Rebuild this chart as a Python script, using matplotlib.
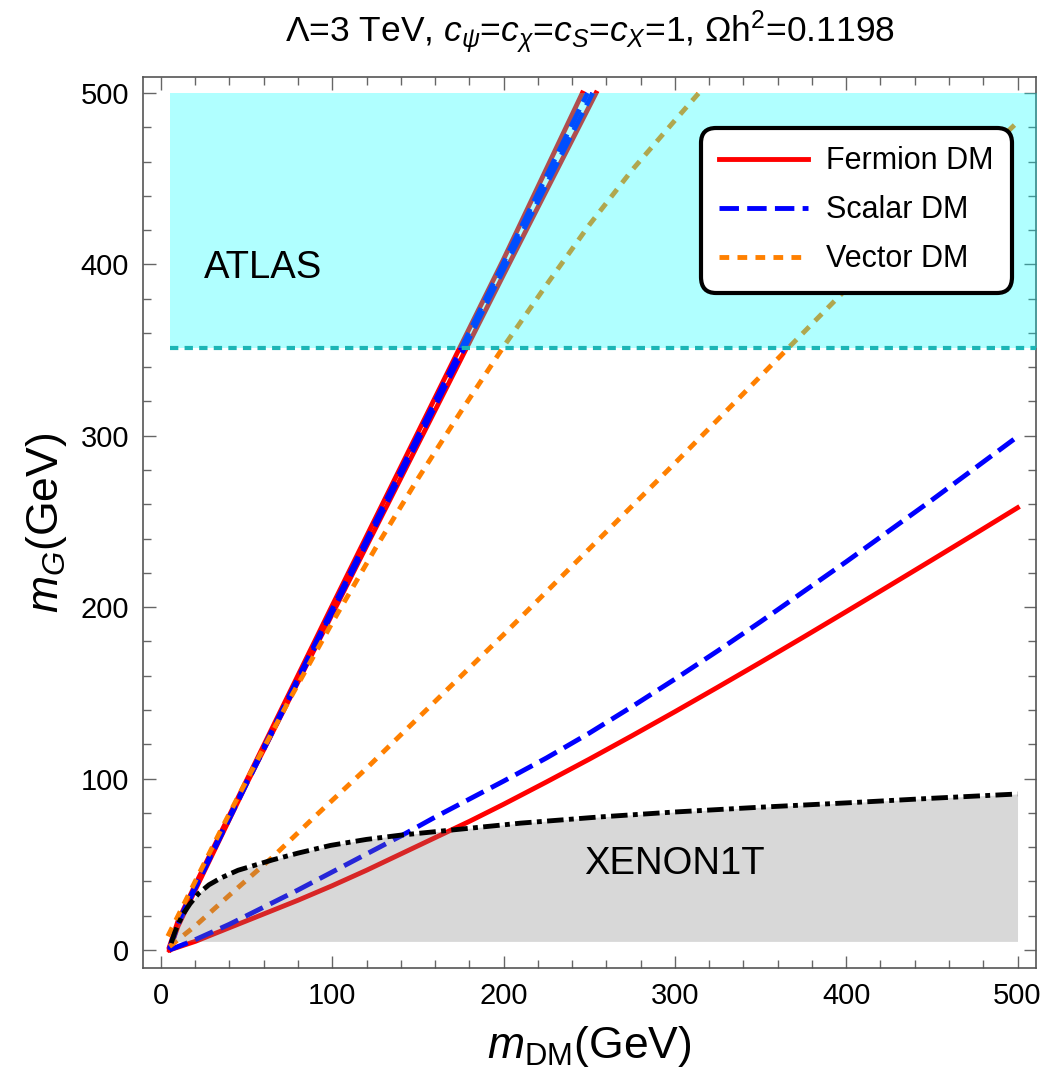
import matplotlib
matplotlib.use("Agg")
import matplotlib.pyplot as plt
from matplotlib.ticker import MultipleLocator

plt.rcParams['font.family'] = ['Liberation Sans', 'DejaVu Sans']
plt.rcParams['mathtext.fontset'] = 'custom'
plt.rcParams['mathtext.rm'] = 'Liberation Sans'
plt.rcParams['mathtext.it'] = 'Liberation Sans:italic'
plt.rcParams['mathtext.bf'] = 'Liberation Sans:bold'

# ---- relic-density contours (m_DM, m_G) in GeV ----
# Fermion DM: two resonance branches near m_G = 2 m_DM, plus the low branch
fermion_res_a_x = [5, 10, 20, 50, 100, 150, 200, 246]
fermion_res_a_y = [2, 17, 38, 99, 201, 302, 403, 500]
fermion_res_b_x = [5, 10, 20, 50, 100, 150, 200, 254]
fermion_res_b_y = [0, 14, 35, 97, 196, 295, 394, 500]
fermion_low_x = [5, 20, 40, 60, 80, 100, 120, 140, 160, 180, 200, 225, 250, 275,
                 300, 325, 350, 375, 400, 425, 450, 475, 500]
fermion_low_y = [0, 5, 13, 21, 29, 37.5, 46.5, 56, 65.5, 75, 85, 98, 111.3, 125,
                 139, 153.3, 167.8, 182.5, 197.4, 212.4, 227.5, 242.7, 258]

# Scalar DM
scalar_res_a_x = [5, 10, 20, 50, 100, 150, 200, 249]
scalar_res_a_y = [1, 16, 37, 98, 199, 300, 401, 500]
scalar_res_b_x = [5, 10, 20, 50, 100, 150, 200, 252]
scalar_res_b_y = [0, 15, 36, 97, 197, 297, 397, 500]
scalar_low_x = [5, 20, 40, 60, 80, 100, 120, 141, 160, 180, 200, 225, 250, 275,
                300, 325, 350, 375, 400, 425, 450, 475, 500]
scalar_low_y = [0, 6, 15, 25, 35, 45.5, 56, 67, 77.5, 88, 98.5, 112, 126.5, 142,
                158, 174.5, 191.5, 209, 226.5, 244.5, 262.5, 281, 299.5]

# Vector DM
vector_up_x = [4, 20, 35, 50, 75, 100, 125, 150, 175, 200, 225, 250, 275, 300, 314]
vector_up_y = [8, 40, 70, 99, 146, 191, 234, 275, 314, 352, 388, 423, 455, 484, 500]
vector_low_x = [5, 20, 40, 65, 90, 120, 160, 200, 250, 300, 365, 430, 500]
vector_low_y = [2, 14, 32, 54, 78, 106, 145, 184, 234, 284, 350, 416, 483]

# XENON1T direct-detection bound
xenon_x = [6, 8, 10, 13, 17, 22, 28, 35, 45, 55, 65, 80, 99, 120, 140, 170, 210,
           256, 300, 350, 400, 450, 500]
xenon_y = [4, 10, 15, 21, 27, 33, 38, 42, 46.5, 49.5, 52.5, 56.5, 61, 64.5, 67, 70,
           74, 77.6, 80.5, 83.3, 85.8, 88.5, 91]
xenon_floor = 5

# ATLAS exclusion
atlas_mg_min = 351
atlas_mg_max = 500
atlas_mdm_min = 5

xticks = [0, 100, 200, 300, 400, 500]
yticks = [0, 100, 200, 300, 400, 500]

fig = plt.figure(figsize=(10.52, 10.73), dpi=100)
ax = fig.add_axes([0.1359, 0.0979, 0.8489, 0.8303])
ax.set_xlim(-10.5, 510.8)
ax.set_ylim(-10.5, 509.3)

RED = '#ff0000'
BLUE = '#0000ff'
ORANGE = '#ff8000'
LW = 3.5
DASH_BLUE = (4.0, 1.7)
DASH_ORANGE = (2.0, 1.7)

# fermion
ax.plot(fermion_res_a_x, fermion_res_a_y, color=RED, lw=LW, zorder=2)
ax.plot(fermion_res_b_x, fermion_res_b_y, color=RED, lw=LW, zorder=2)
ax.plot(fermion_low_x, fermion_low_y, color=RED, lw=LW, zorder=2,
        label='Fermion DM')
# scalar
for xs, ys in [(scalar_res_a_x, scalar_res_a_y), (scalar_res_b_x, scalar_res_b_y)]:
    ax.plot(xs, ys, color=BLUE, lw=LW, dashes=DASH_BLUE, zorder=2.2)
ax.plot(scalar_low_x, scalar_low_y, color=BLUE, lw=LW, dashes=DASH_BLUE,
        zorder=2.2, label='Scalar DM')
# vector
ax.plot(vector_up_x, vector_up_y, color=ORANGE, lw=LW, dashes=DASH_ORANGE, zorder=2.4)
ax.plot(vector_low_x, vector_low_y, color=ORANGE, lw=LW, dashes=DASH_ORANGE,
        zorder=2.4, label='Vector DM')

# XENON1T excluded region
ax.fill_between(xenon_x, xenon_floor, xenon_y, where=[y > xenon_floor for y in xenon_y],
                interpolate=True, color=(0.5, 0.5, 0.5), alpha=0.3, lw=0, zorder=3)
ax.plot(xenon_x, xenon_y, color='black', lw=LW, dashes=(3.4, 1.1, 1.0, 1.1), zorder=3.5)

# ATLAS excluded region
ax.fill_between([atlas_mdm_min, 520], atlas_mg_min, atlas_mg_max,
                color=(0, 1, 1), alpha=0.31, lw=0, zorder=3)
ax.plot([atlas_mdm_min, 520], [atlas_mg_min, atlas_mg_min], color='#1bb5b5',
        lw=3.0, dashes=(2.0, 1.5), zorder=3.6)

ax.text(25, 398, 'ATLAS', fontsize=27.5, va='center', ha='left', zorder=4)
ax.text(247, 50, 'XENON1T', fontsize=27.5, va='center', ha='left', zorder=4)

# frame and ticks
for sp in ax.spines.values():
    sp.set_color('#555555')
    sp.set_linewidth(1.2)
ax.set_xticks(xticks)
ax.set_yticks(yticks)
ax.xaxis.set_minor_locator(MultipleLocator(20))
ax.yaxis.set_minor_locator(MultipleLocator(20))
ax.tick_params(which='both', direction='in', top=True, right=True,
               color='#666666', width=1.0)
ax.tick_params(which='major', length=9, labelsize=21, pad=10)
ax.tick_params(which='minor', length=5.5)

ax.set_xlabel(r'$m_{\mathrm{DM}}$(GeV)', fontsize=32, labelpad=10)
ax.set_ylabel(r'$m_G$(GeV)', fontsize=32, labelpad=8)
ax.set_title(r'Λ=3 TeV, $c_\psi$=$c_\chi$=$c_S$=$c_X$=1, Ωh$^2$=0.1198',
             fontsize=25.5, pad=25)

leg = ax.legend(loc='upper right', bbox_to_anchor=(0.973, 0.9428), borderaxespad=0,
                fontsize=22, handlelength=2.9, handletextpad=0.6, labelspacing=0.62,
                borderpad=0.6, fancybox=True, framealpha=1, edgecolor='black')
leg.get_frame().set_linewidth(3)
leg.get_frame().set_boxstyle('round', pad=0.0, rounding_size=0.5)
leg.set_zorder(5)

fig.savefig('out.png', dpi=100)
